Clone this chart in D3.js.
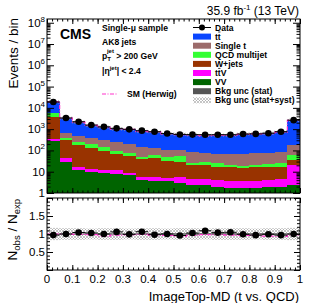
<!DOCTYPE html>
<html><head><meta charset="utf-8">
<script src="https://cdn.jsdelivr.net/npm/d3@7"></script>
<style>body{margin:0;background:#fff} text{font-family:"Liberation Sans",Arial,sans-serif}</style>
</head><body><svg id="c" width="316" height="303"></svg>
<script>
// ---- data ----
const binLow = [0,0.05,0.1,0.15,0.2,0.25,0.3,0.35,0.4,0.45,0.5,0.55,0.6,0.65,0.7,0.75,0.8,0.85,0.9,0.95];
const binWidth = 0.05;
const vv      = [275,30,12.5,10,9,8,7,4.1,3.8,3.5,3,2.4,2.3,2.0,1.8,1.7,1.8,1.9,2.0,2.5];
const ttV     = [65,13,4.5,4,3,4,2,1.7,1.7,1.5,2.5,2.1,2.2,2.3,1.8,1.8,2.0,2.1,2.5,17.5];
const wjets   = [3360,277,163,111,78,53,46,34,39.5,28,24.5,15.5,15.5,12.7,12.4,11.5,12.2,13,12.5,15];
const qcd     = [2000,60,75,75,58,25,20,11,16,17,25,5,8,8,4,3,4,5,8,25];
const singleT = [200,250,245,200,152,160,125,89,64,60,45,55,47,40,50,52,53,53,55,120];
const ttbar   = [13600,2720,1650,1120,980,780,790,660,645,510,490,460,430,465,455,525,547,575,700,2470];
const dataObs = [18900,3350,2240,1565,1280,1090,980,850,755,620,565,555,550,550,550,590,600,645,755,2650];
const herwigRatio = [1.0,1.0,0.99,0.98,0.94,0.97,0.98,0.99,0.97,0.96,0.93,0.96,0.98,0.98,0.97,0.96,0.96,0.94,0.93,0.97];
const statRel = [0.005,0.01,0.012,0.014,0.015,0.016,0.016,0.018,0.018,0.02,0.02,0.02,0.02,0.02,0.02,0.02,0.02,0.02,0.018,0.012];
const systRel = [0.17,0.16,0.16,0.15,0.16,0.16,0.15,0.16,0.16,0.15,0.16,0.16,0.15,0.16,0.16,0.16,0.15,0.16,0.16,0.17];
const xTickLabels = ["0","0.1","0.2","0.3","0.4","0.5","0.6","0.7","0.8","0.9","1"];
const ratioTickLabels = ["0.5","1","1.5"];
const legendLabels = ["Data","tt","Single t","QCD multijet","W+jets","ttV","VV","Bkg unc (stat)","Bkg unc (stat+syst)"];

const keys = ["vv","ttV","wjets","qcd","singleT","ttbar"];
const colors = {vv:"#006400",ttV:"#ff00ff",wjets:"#993300",qcd:"#33ff33",singleT:"#9c6b6b",ttbar:"#0a46ff"};

const rows = binLow.map((lo,i)=>({lo, vv:vv[i], ttV:ttV[i], wjets:wjets[i], qcd:qcd[i], singleT:singleT[i], ttbar:ttbar[i]}));
const total = rows.map(r=>keys.reduce((s,k)=>s+r[k],0));

// ---- layout ----
const L=47,R=300,T1=19,B1=193,T2=198,B2=270;
const svg = d3.select("#c");
const x = d3.scaleLinear([0,1],[L,R]);
const y = d3.scaleLog([1,1.5e8],[B1,T1]);
const yr = d3.scaleLinear([0,2],[B2,T2]);

const defs = svg.append("defs");
defs.append("clipPath").attr("id","cm").append("rect").attr("x",L).attr("y",T1).attr("width",R-L).attr("height",B1-T1);
defs.append("clipPath").attr("id","cr").append("rect").attr("x",L).attr("y",T2).attr("width",R-L).attr("height",B2-T2);
const pat = defs.append("pattern").attr("id","hatch").attr("width",3).attr("height",3).attr("patternUnits","userSpaceOnUse");
pat.append("path").attr("d","M0,0L3,3M3,0L0,3").attr("stroke","#a0a0a0").attr("stroke-width",0.6);

// ---- main panel ----
const gm = svg.append("g").attr("clip-path","url(#cm)");
const stack = d3.stack().keys(keys)(rows);
stack.forEach(layer=>{
  gm.append("g").selectAll("rect").data(layer).join("rect")
    .attr("x",d=>x(d.data.lo)).attr("width",d=>x(d.data.lo+binWidth)-x(d.data.lo))
    .attr("y",d=>y(d[1]))
    .attr("height",d=>(d[0]<=0? B1+5 : y(d[0]))-y(d[1]))
    .attr("fill",colors[layer.key]).attr("shape-rendering","crispEdges");
});
gm.append("g").selectAll("rect").data(binLow).join("rect")
  .attr("x",(d)=>x(d)).attr("width",x(binWidth)-x(0))
  .attr("y",(d,i)=>y(total[i]*(1+systRel[i]))).attr("height",(d,i)=>y(total[i]*(1-systRel[i]))-y(total[i]*(1+systRel[i])))
  .attr("fill","url(#hatch)");
gm.append("g").selectAll("rect").data(binLow).join("rect")
  .attr("x",(d)=>x(d)).attr("width",x(binWidth)-x(0))
  .attr("y",(d,i)=>y(total[i]*(1+statRel[i]))).attr("height",(d,i)=>Math.max(0.6,y(total[i]*(1-statRel[i]))-y(total[i]*(1+statRel[i]))))
  .attr("fill","#555");
const stepLine = (vals,ys)=>{
  let p="";
  binLow.forEach((lo,i)=>{ const yy=ys(vals[i]); p += (i===0?"M":"L")+x(lo)+","+yy+"L"+x(lo+binWidth)+","+yy; });
  return p;
};
gm.append("path").attr("d",stepLine(total.map((t,i)=>t*herwigRatio[i]),y))
  .attr("fill","none").attr("stroke","#ff33cc").attr("stroke-width",1.2).attr("stroke-dasharray","4,1.5,1,1.5");
const dm = gm.append("g");
binLow.forEach((lo,i)=>{
  const cx=x(lo+binWidth/2), v=dataObs[i], e=Math.sqrt(v);
  dm.append("line").attr("x1",x(lo)).attr("x2",x(lo+binWidth)).attr("y1",y(v)).attr("y2",y(v)).attr("stroke","#000").attr("stroke-width",1);
  dm.append("line").attr("x1",cx).attr("x2",cx).attr("y1",y(v+e)).attr("y2",y(v-e)).attr("stroke","#000").attr("stroke-width",1);
  dm.append("circle").attr("cx",cx).attr("cy",y(v)).attr("r",3.3).attr("fill","#000");
});

// ---- ratio panel ----
const gr = svg.append("g").attr("clip-path","url(#cr)");
gr.append("g").selectAll("rect").data(binLow).join("rect")
  .attr("x",d=>x(d)).attr("width",x(binWidth)-x(0))
  .attr("y",(d,i)=>yr(1+systRel[i])).attr("height",(d,i)=>yr(1-systRel[i])-yr(1+systRel[i]))
  .attr("fill","url(#hatch)");
gr.append("g").selectAll("rect").data(binLow).join("rect")
  .attr("x",d=>x(d)).attr("width",x(binWidth)-x(0))
  .attr("y",(d,i)=>yr(1+statRel[i])).attr("height",(d,i)=>Math.max(0.8,yr(1-statRel[i])-yr(1+statRel[i])))
  .attr("fill","#555");
gr.append("path").attr("d",stepLine(herwigRatio,yr))
  .attr("fill","none").attr("stroke","#ff33cc").attr("stroke-width",1.2).attr("stroke-dasharray","4,1.5,1,1.5");
binLow.forEach((lo,i)=>{
  const cx=x(lo+binWidth/2), r=dataObs[i]/total[i], e=r/Math.sqrt(dataObs[i]);
  gr.append("line").attr("x1",x(lo)).attr("x2",x(lo+binWidth)).attr("y1",yr(r)).attr("y2",yr(r)).attr("stroke","#000");
  gr.append("line").attr("x1",cx).attr("x2",cx).attr("y1",yr(r+e)).attr("y2",yr(r-e)).attr("stroke","#000");
  gr.append("circle").attr("cx",cx).attr("cy",yr(r)).attr("r",3.3).attr("fill","#000");
});

// ---- axes / ticks ----
function ticksG(axis, tx, ty){
  const g = svg.append("g").attr("transform",`translate(${tx},${ty})`).call(axis);
  g.select(".domain").remove(); g.selectAll("text").remove();
  g.selectAll("line").attr("stroke","#000").attr("stroke-width",1);
  return g;
}
const majorLog = [1,10,1e2,1e3,1e4,1e5,1e6,1e7,1e8];
const minorLog = [];
majorLog.forEach(m=>{ for(let k=2;k<=9;k++){ if(m*k<=1.5e8) minorLog.push(m*k);} });
[[d3.axisLeft,L,7],[d3.axisRight,R,7]].forEach(([ax,pos,s])=>{
  ticksG(ax(y).tickValues(majorLog).tickSize(-s).tickSizeOuter(0),pos,0);
  ticksG(ax(y).tickValues(minorLog).tickSize(-s/2).tickSizeOuter(0),pos,0);
});
const xMaj = xTickLabels.map(Number);
const xMin = d3.range(0,1.0001,0.02);
[[d3.axisBottom,B1],[d3.axisTop,T1],[d3.axisBottom,B2],[d3.axisTop,T2]].forEach(([ax,pos])=>{
  ticksG(ax(x).tickValues(xMaj).tickSize(-5).tickSizeOuter(0),0,pos);
  ticksG(ax(x).tickValues(xMin).tickSize(-2.5).tickSizeOuter(0),0,pos);
});
const rMaj=[0,0.5,1,1.5,2], rMin=d3.range(0,2.0001,0.1);
[[d3.axisLeft,L],[d3.axisRight,R]].forEach(([ax,pos])=>{
  ticksG(ax(yr).tickValues(rMaj).tickSize(-6).tickSizeOuter(0),pos,0);
  ticksG(ax(yr).tickValues(rMin).tickSize(-3).tickSizeOuter(0),pos,0);
});
svg.append("rect").attr("x",L).attr("y",T1).attr("width",R-L).attr("height",B1-T1).attr("fill","none").attr("stroke","#000");
svg.append("rect").attr("x",L).attr("y",T2).attr("width",R-L).attr("height",B2-T2).attr("fill","none").attr("stroke","#000");

majorLog.forEach(v=>{
  const e=Math.round(Math.log10(v));
  const t=svg.append("text").attr("x",45).attr("y",y(v)+4).attr("text-anchor","end").attr("font-size",11.5);
  if(e===0) t.text("1");
  else if(e===1) t.text("10");
  else { t.append("tspan").text("10"); t.append("tspan").attr("dy",-5).attr("font-size",8).text(e); }
});
ratioTickLabels.forEach(s=>{
  svg.append("text").attr("x",45).attr("y",yr(+s)+4).attr("text-anchor","end").attr("font-size",11.5).text(s);
});
xTickLabels.forEach(s=>{
  svg.append("text").attr("x",x(+s)).attr("y",282.5).attr("text-anchor","middle").attr("font-size",11.5).text(s);
});

svg.append("text").attr("transform","translate(18,18) rotate(-90)").attr("text-anchor","end").attr("font-size",13.5).text("Events / bin");
const ny = svg.append("text").attr("transform","translate(17,199) rotate(-90)").attr("text-anchor","end").attr("font-size",13.5);
ny.append("tspan").text("N");
ny.append("tspan").attr("dy",3).attr("font-size",9.5).text("obs");
ny.append("tspan").attr("dy",-3).text(" / N");
ny.append("tspan").attr("dy",3).attr("font-size",9.5).text("exp");
svg.append("text").attr("x",299).attr("y",301).attr("text-anchor","end").attr("font-size",13).text("ImageTop-MD (t vs. QCD)");

svg.append("text").attr("x",60).attr("y",39).attr("font-size",14).attr("font-weight","bold").text("CMS");
const lum = svg.append("text").attr("x",299).attr("y",14.5).attr("text-anchor","end").attr("font-size",12);
lum.append("tspan").text("35.9 fb");
lum.append("tspan").attr("dy",-4.5).attr("font-size",8).text("-1");
lum.append("tspan").attr("dy",4.5).text(" (13 TeV)");

const fs=8.6;
svg.append("text").attr("x",102).attr("y",30.5).attr("font-size",fs).attr("font-weight","bold").text("Single-\u03bc sample");
svg.append("text").attr("x",102).attr("y",45).attr("font-size",fs).attr("font-weight","bold").text("AK8 jets");
const pt = svg.append("text").attr("x",102).attr("y",58.5).attr("font-size",fs).attr("font-weight","bold");
pt.append("tspan").text("p");
pt.append("tspan").attr("dy",2.5).attr("font-size",6).text("T");
pt.append("tspan").attr("dx",-4).attr("dy",-8).attr("font-size",6).text("jet");
pt.append("tspan").attr("dy",5.5).text(" > 200 GeV");
const eta = svg.append("text").attr("x",102).attr("y",74).attr("font-size",fs).attr("font-weight","bold");
eta.append("tspan").text("|\u03b7");
eta.append("tspan").attr("dy",-4).attr("font-size",6).text("jet");
eta.append("tspan").attr("dy",4).text("| < 2.4");
svg.append("line").attr("x1",102).attr("x2",118).attr("y1",94).attr("y2",94).attr("stroke","#ff33cc").attr("stroke-width",1.2).attr("stroke-dasharray","4,1.5,1,1.5");
svg.append("text").attr("x",127).attr("y",97).attr("font-size",fs).attr("font-weight","bold").text("SM (Herwig)");

const legY = i=>27.5+9.1*i;
const lx0=193, lx1=211;
legendLabels.forEach((lab,i)=>{
  const cy=legY(i);
  if(i===0){
    svg.append("line").attr("x1",lx0).attr("x2",lx1).attr("y1",cy).attr("y2",cy).attr("stroke","#000");
    svg.append("circle").attr("cx",(lx0+lx1)/2).attr("cy",cy).attr("r",3).attr("fill","#000");
  } else {
    const fill = i<=6 ? colors[["ttbar","singleT","qcd","wjets","ttV","vv"][i-1]] : (i===7?"#555":"url(#hatch)");
    svg.append("rect").attr("x",lx0).attr("y",cy-3).attr("width",lx1-lx0).attr("height",6).attr("fill",fill);
  }
  const t = svg.append("text").attr("x",215).attr("y",cy+3).attr("font-size",fs).attr("font-weight","bold").text(lab);
  if(lab.startsWith("tt")){
    const ex = t.node().getExtentOfChar(1);
    svg.append("line").attr("x1",ex.x+0.3).attr("x2",ex.x+ex.width-0.3)
      .attr("y1",cy-4.6).attr("y2",cy-4.6).attr("stroke","#000").attr("stroke-width",0.8);
  }
});
</script></body></html>
